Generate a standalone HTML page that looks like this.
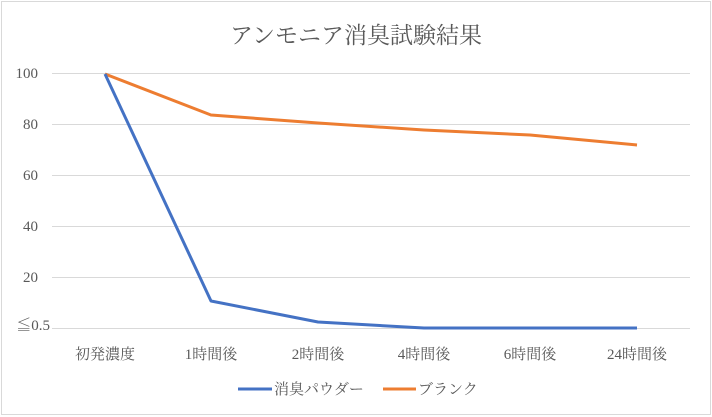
<!DOCTYPE html>
<html><head><meta charset="utf-8"><style>
html,body{margin:0;padding:0;background:#fff}
svg{display:block}
text{font-family:"Liberation Serif","Noto Serif CJK JP","Noto Serif CJK SC",serif;fill:#595959}
</style></head><body>
<svg width="712" height="417" viewBox="0 0 712 417" xmlns="http://www.w3.org/2000/svg">
<rect x="1.5" y="1.5" width="709" height="413" fill="#fff" stroke="#d9d9d9" stroke-width="1"/>
<text x="356" y="43" font-size="23" text-anchor="middle" fill="#595959">アンモニア消臭試験結果</text>
<g stroke="#d9d9d9" stroke-width="1">
<line x1="52" x2="690" y1="73.5" y2="73.5"/>
<line x1="52" x2="690" y1="124.5" y2="124.5"/>
<line x1="52" x2="690" y1="175.5" y2="175.5"/>
<line x1="52" x2="690" y1="226.5" y2="226.5"/>
<line x1="52" x2="690" y1="277.5" y2="277.5"/>
<line x1="52" x2="690" y1="328.5" y2="328.5"/>
</g>
<g font-size="15" text-anchor="end">
<text x="38" y="78">100</text>
<text x="38" y="129">80</text>
<text x="38" y="180">60</text>
<text x="38" y="231">40</text>
<text x="38" y="282">20</text>
<text x="50" y="330">≦0.5</text>
</g>
<g font-size="15" text-anchor="middle">
<text x="105" y="359">初発濃度</text>
<text x="211" y="359">1時間後</text>
<text x="318" y="359">2時間後</text>
<text x="424" y="359">4時間後</text>
<text x="530" y="359">6時間後</text>
<text x="637" y="359">24時間後</text>
</g>
<polyline fill="none" stroke="#ed7d31" stroke-width="3" stroke-linejoin="round" points="105,74 211,115 318,123 424,130 530,135 637,145"/>
<polyline fill="none" stroke="#4472c4" stroke-width="3" stroke-linejoin="round" points="105,74 211,301 318,322 424,328 530,328 637,328"/>
<line x1="238" x2="272" y1="389" y2="389" stroke="#4472c4" stroke-width="3"/>
<text x="274" y="394" font-size="15">消臭パウダー</text>
<line x1="383" x2="416" y1="389" y2="389" stroke="#ed7d31" stroke-width="3"/>
<text x="418" y="394" font-size="15">ブランク</text>
</svg>
</body></html>
